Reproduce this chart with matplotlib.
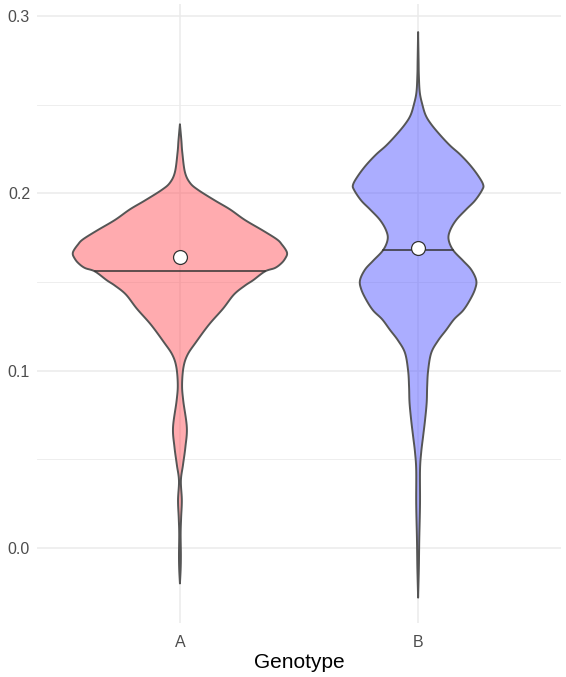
import matplotlib.pyplot as plt
import matplotlib.colors as mcolors
import numpy as np

# violin outlines: value along y, half width in x units
genotypes = ['A', 'B']

a_y = [0.239, 0.230, 0.223, 0.212, 0.206, 0.202, 0.196, 0.191, 0.185, 0.179,
       0.174, 0.171, 0.168, 0.166, 0.164, 0.161, 0.158, 0.156, 0.151, 0.148,
       0.143, 0.135, 0.126, 0.116, 0.109, 0.102, 0.092, 0.083, 0.068, 0.057,
       0.047, 0.038, 0.027, 0.017, 0.008, -0.004, -0.012, -0.020]
a_w = [0.0, 0.006, 0.010, 0.021, 0.042, 0.076, 0.147, 0.210, 0.273, 0.349,
       0.408, 0.429, 0.445, 0.450, 0.445, 0.429, 0.400, 0.357, 0.307, 0.273,
       0.227, 0.181, 0.122, 0.067, 0.032, 0.015, 0.009, 0.014, 0.029, 0.023,
       0.013, 0.004, 0.008, 0.005, 0.003, 0.004, 0.003, 0.0]

b_y = [0.291, 0.275, 0.267, 0.257, 0.250, 0.244, 0.239, 0.233, 0.227, 0.222,
       0.216, 0.210, 0.205, 0.202, 0.196, 0.191, 0.185, 0.179, 0.174, 0.168,
       0.162, 0.157, 0.151, 0.146, 0.140, 0.134, 0.129, 0.123, 0.117, 0.110,
       0.100, 0.091, 0.082, 0.072, 0.063, 0.054, 0.044, 0.025, 0.006, -0.003,
       -0.012, -0.028]
b_w = [0.0, 0.002, 0.003, 0.007, 0.018, 0.032, 0.055, 0.092, 0.134, 0.176,
       0.218, 0.252, 0.273, 0.269, 0.239, 0.202, 0.160, 0.134, 0.128, 0.147,
       0.189, 0.223, 0.244, 0.239, 0.218, 0.189, 0.151, 0.118, 0.084, 0.055,
       0.042, 0.038, 0.036, 0.029, 0.021, 0.013, 0.008, 0.008, 0.005, 0.004,
       0.003, 0.0]

medians = [0.156, 0.168]
means = [0.164, 0.169]
fills = ['#FF5961', '#595DFF']


def smooth_outline(ys, ws, steps=10):
    # catmull-rom through the read points so the outline isn't jagged
    p = np.column_stack([ys, ws])
    p = np.vstack([p[0], p, p[-1]])
    out = []
    t = np.linspace(0, 1, steps, endpoint=False)[:, None]
    for i in range(1, len(p) - 2):
        p0, p1, p2, p3 = p[i - 1], p[i], p[i + 1], p[i + 2]
        seg = 0.5 * (2 * p1 + (p2 - p0) * t
                     + (2 * p0 - 5 * p1 + 4 * p2 - p3) * t ** 2
                     + (3 * p1 - p0 - 3 * p2 + p3) * t ** 3)
        out.append(seg)
    out.append(p[-2][None, :])
    out = np.vstack(out)
    return out[:, 0], np.clip(out[:, 1], 0, None)


plt.rcParams['font.family'] = ['Liberation Sans', 'DejaVu Sans']

fig = plt.figure(figsize=(5.66, 6.77), dpi=100)
ax = fig.add_axes([0.0654, 0.0798, 0.9258, 0.9142])

profiles = [(a_y, a_w), (b_y, b_w)]
for i, (ys, ws) in enumerate(profiles):
    pos = i + 1
    sy, sw = smooth_outline(ys, ws)
    xs = np.concatenate([pos - sw, (pos + sw)[::-1]])
    yy = np.concatenate([sy, sy[::-1]])
    ax.fill(xs, yy, facecolor=mcolors.to_rgba(fills[i], 0.5),
            edgecolor='#555555', linewidth=1.4, joinstyle='round', zorder=2)
    # median line spans the violin at that height
    half = np.interp(medians[i], sy[::-1], sw[::-1])
    ax.plot([pos - half, pos + half], [medians[i], medians[i]],
            color='#333333', lw=1.1, zorder=3)
    ax.plot(pos, means[i], 'o', ms=10, mfc='white', mec='#333333',
            mew=0.9, zorder=4)

ax.set_xlim(0.4, 2.6)
ax.set_ylim(-0.0423, 0.3068)
ax.set_xticks([1, 2])
ax.set_xticklabels(genotypes)
ax.set_yticks([0.0, 0.1, 0.2, 0.3])
ax.set_yticklabels(['0.0', '0.1', '0.2', '0.3'])
ax.set_yticks([0.05, 0.15, 0.25], minor=True)
ax.grid(which='major', color='#EBEBEB', lw=1.1)
ax.grid(which='minor', axis='y', color='#EBEBEB', lw=0.6)
ax.set_axisbelow(True)
for s in ax.spines.values():
    s.set_visible(False)
ax.tick_params(which='both', length=0, labelcolor='#4D4D4D', labelsize=11.5)
ax.tick_params(axis='x', pad=9)
ax.tick_params(axis='y', pad=5)
ax.set_xlabel('Genotype', fontsize=15, labelpad=2)

fig.savefig('out.png', dpi=100)
